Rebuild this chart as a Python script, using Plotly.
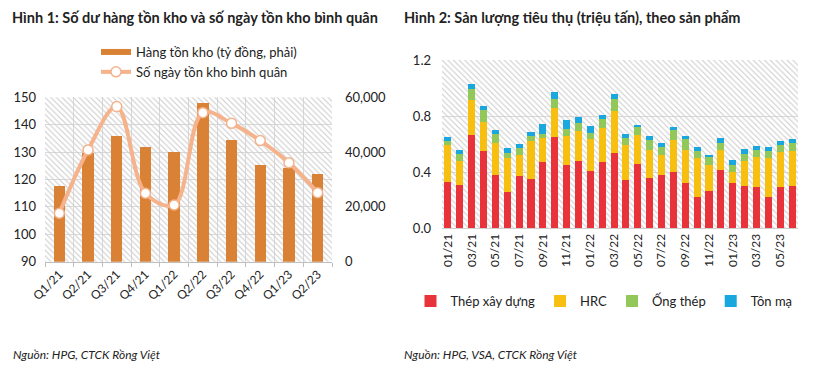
import plotly.graph_objects as go

# ---------------- Data: Hình 1 ----------------
quarters = ["Q1/21", "Q2/21", "Q3/21", "Q4/21", "Q1/22", "Q2/22", "Q3/22", "Q4/22", "Q1/23", "Q2/23"]
inventory_bn = [27700, 39700, 45700, 42000, 39900, 58000, 44400, 35400, 34200, 32000]
inventory_days = [107.7, 130.8, 146.6, 115.0, 110.7, 144.4, 140.5, 134.2, 126.1, 115.2]

# ---------------- Data: Hình 2 ----------------
months = ["01/21", "02/21", "03/21", "04/21", "05/21", "06/21", "07/21", "08/21", "09/21", "10/21",
          "11/21", "12/21", "01/22", "02/22", "03/22", "04/22", "05/22", "06/22", "07/22", "08/22",
          "09/22", "10/22", "11/22", "12/22", "01/23", "02/23", "03/23", "04/23", "05/23", "06/23"]
thep_xay_dung = [0.33, 0.31, 0.665, 0.55, 0.38, 0.26, 0.37, 0.35, 0.47, 0.65,
                 0.45, 0.48, 0.41, 0.47, 0.535, 0.34, 0.455, 0.36, 0.38, 0.40,
                 0.325, 0.225, 0.265, 0.415, 0.32, 0.30, 0.295, 0.225, 0.29, 0.30]
hrc = [0.26, 0.17, 0.25, 0.21, 0.23, 0.24, 0.15, 0.27, 0.17, 0.21,
       0.21, 0.21, 0.225, 0.245, 0.30, 0.255, 0.21, 0.20, 0.14, 0.23,
       0.23, 0.275, 0.185, 0.145, 0.08, 0.18, 0.215, 0.275, 0.25, 0.25]
ong_thep = [0.035, 0.05, 0.08, 0.08, 0.06, 0.035, 0.055, 0.035, 0.035, 0.06,
            0.045, 0.06, 0.045, 0.065, 0.09, 0.045, 0.055, 0.07, 0.06, 0.07,
            0.08, 0.05, 0.055, 0.05, 0.05, 0.05, 0.05, 0.05, 0.055, 0.06]
ton_ma = [0.025, 0.03, 0.035, 0.03, 0.03, 0.035, 0.025, 0.03, 0.065, 0.055,
          0.065, 0.045, 0.05, 0.03, 0.035, 0.03, 0.015, 0.025, 0.025, 0.025,
          0.02, 0.03, 0.015, 0.035, 0.035, 0.035, 0.025, 0.03, 0.03, 0.025]
month_ticks = months[::2]

FONT = "Lato"
BAR_ORANGE = "#D98236"
LINE_SALMON = "#F5B28B"
GRID = "#d9d9d9"
HATCH = "#cdcdcd"

W, H = 820, 371
OFF = 8  # page body margin offset seen in the rendered screenshot


def px(x):
    return (x - OFF) / W


def py(y):
    return (H - (y - OFF)) / H


fig = go.Figure()

# hatched plot backgrounds (decoration)
for xa, ya in (("x", "y"), ("x3", "y4")):
    fig.add_trace(go.Bar(x=[0.5], y=[1], width=[1], xaxis=xa, yaxis=ya, showlegend=False,
                         hoverinfo="skip",
                         marker=dict(color=HATCH, line=dict(width=0),
                                     pattern=dict(shape="\\", size=4, solidity=0.28, fillmode="replace"))))

# Hình 1
fig.add_trace(go.Bar(x=quarters, y=inventory_bn, xaxis="x2", yaxis="y2", marker_color=BAR_ORANGE,
                     width=0.4, showlegend=False, name="Hàng tồn kho (tỷ đồng, phải)"))
fig.add_trace(go.Scatter(x=[None], y=[None], xaxis="x2", yaxis="y2", mode="lines",
                         line=dict(color=BAR_ORANGE, width=6), name="Hàng tồn kho (tỷ đồng, phải)",
                         legend="legend", legendgroup="a"))
fig.add_trace(go.Scatter(x=quarters, y=inventory_days, xaxis="x2", yaxis="y3", mode="lines+markers",
                         line=dict(color=LINE_SALMON, width=4, shape="spline", smoothing=1.0),
                         marker=dict(size=10, color="white", line=dict(color=LINE_SALMON, width=1.5)),
                         name="Số ngày tồn kho bình quân", legend="legend", legendgroup="b"))

# Hình 2
for name, vals, col in (("Thép xây dựng", thep_xay_dung, "#E8333A"),
                        ("HRC", hrc, "#F7C010"),
                        ("Ống thép", ong_thep, "#92C85A"),
                        ("Tôn mạ", ton_ma, "#1AA7DD")):
    fig.add_trace(go.Bar(x=months, y=vals, name=name, marker=dict(color=col, line=dict(width=0)),
                         xaxis="x4", yaxis="y5", legend="legend2"))

L_X = [px(45), px(332)]
L_Y = [py(261.7), py(97.3)]
R_X = [px(442), px(798)]
R_Y = [py(228), py(60)]

tickfont = dict(family=FONT, size=13, color="#222")

fig.update_layout(
    template="none",
    width=W, height=H, margin=dict(l=0, r=0, t=0, b=0, autoexpand=False),
    paper_bgcolor="white", plot_bgcolor="white",
    barmode="stack", bargap=0.4,
    font=dict(family=FONT, size=12, color="#222"),
    xaxis=dict(domain=L_X, range=[0, 1], visible=False, fixedrange=True, automargin=False),
    yaxis=dict(domain=L_Y, range=[0, 1], visible=False, fixedrange=True, automargin=False),
    xaxis2=dict(domain=L_X, overlaying="x", anchor="y3", type="category", tickson="boundaries",
                showgrid=True, gridcolor=GRID, gridwidth=1, showline=True, linecolor="#bfbfbf",
                ticks="outside", ticklen=4, tickcolor="#bfbfbf", tickangle=-45, automargin=False,
                tickfont=dict(family=FONT, size=12, color="#222"), range=[-0.5, 9.5]),
    yaxis2=dict(domain=L_Y, overlaying="y", side="right", anchor="x2", range=[0, 60000],
                tickvals=[0, 20000, 40000, 60000], ticktext=["0", "20,000", "40,000", "60,000"],
                showgrid=False, zeroline=False, showline=False, ticks="", tickfont=tickfont,
                ticklabelstandoff=12, automargin=False),
    yaxis3=dict(domain=L_Y, overlaying="y", side="left", anchor="x2", range=[90, 150], dtick=10,
                showgrid=True, gridcolor=GRID, gridwidth=1, zeroline=False, showline=False, ticks="",
                tickfont=tickfont, ticklabelstandoff=8, automargin=False),
    xaxis3=dict(domain=R_X, range=[0, 1], visible=False, fixedrange=True, automargin=False),
    yaxis4=dict(domain=R_Y, range=[0, 1], visible=False, fixedrange=True, automargin=False),
    xaxis4=dict(domain=R_X, overlaying="x3", anchor="y5", type="category", range=[-0.5, 29.5],
                tickvals=month_ticks, ticktext=month_ticks, tickangle=-90, showgrid=False,
                showline=True, linecolor="#cfcfcf", ticks="", automargin=False,
                tickfont=dict(family=FONT, size=12, color="#222")),
    yaxis5=dict(domain=R_Y, overlaying="y4", anchor="x4", range=[0, 1.2], dtick=0.4, tickformat=".1f",
                showgrid=True, gridcolor=GRID, gridwidth=1, zeroline=False, showline=False, ticks="",
                tickfont=tickfont, ticklabelstandoff=10, automargin=False),
    legend=dict(x=px(96), y=py(37), xanchor="left", yanchor="top", orientation="v",
                font=dict(family=FONT, size=13, color="#222"), bgcolor="rgba(0,0,0,0)",
                traceorder="normal", tracegroupgap=3, itemwidth=30),
    legend2=dict(x=px(604), y=py(301), xanchor="center", yanchor="middle", orientation="h",
                 font=dict(family=FONT, size=13, color="#222"), bgcolor="rgba(0,0,0,0)",
                 traceorder="normal"),
    annotations=[
        dict(text="<b>Hình 1: Số dư hàng tồn kho và số ngày tồn kho bình quân</b>", x=px(11), y=1,
             xref="paper", yref="paper", xanchor="left", yanchor="top", showarrow=False, borderpad=0,
             font=dict(family=FONT, size=14.5, color="#222")),
        dict(text="<b>Hình 2: Sản lượng tiêu thụ (triệu tấn), theo sản phẩm</b>", x=px(403), y=1,
             xref="paper", yref="paper", xanchor="left", yanchor="top", showarrow=False, borderpad=0,
             font=dict(family=FONT, size=14.5, color="#222")),
        dict(text="<i>Nguồn: HPG, CTCK Rồng Việt</i>", x=px(11), y=py(354),
             xref="paper", yref="paper", xanchor="left", yanchor="middle", showarrow=False,
             font=dict(family=FONT, size=12, color="#222")),
        dict(text="<i>Nguồn: HPG, VSA, CTCK Rồng Việt</i>", x=px(402), y=py(354),
             xref="paper", yref="paper", xanchor="left", yanchor="middle", showarrow=False,
             font=dict(family=FONT, size=12, color="#222")),
    ],
)

fig.write_html("out.html")
